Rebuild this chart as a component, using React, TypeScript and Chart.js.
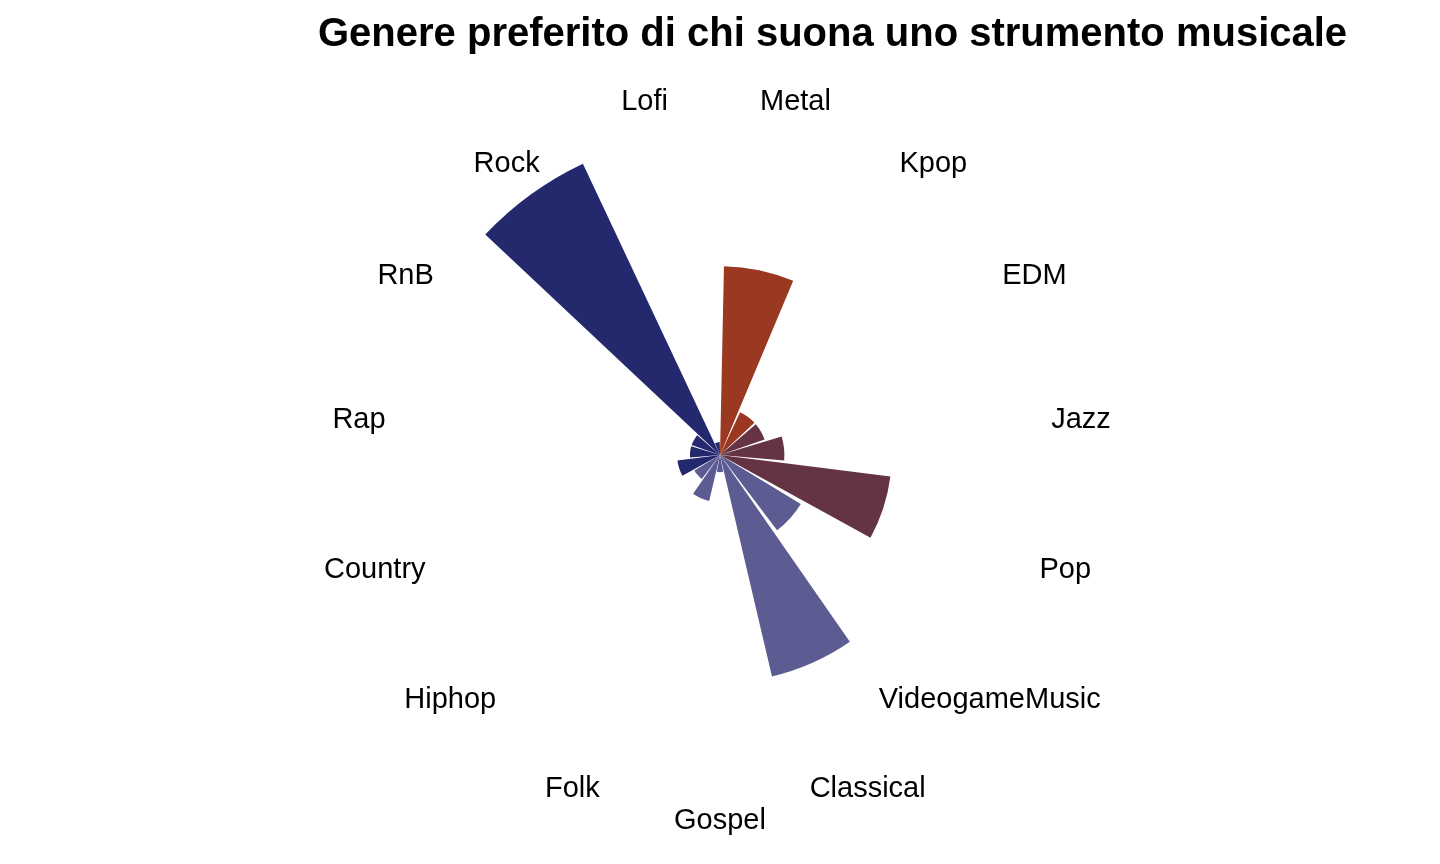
import React, { useEffect, useRef } from "react";
import { Chart, registerables } from "chart.js";

Chart.register(...registerables);

const TITLE = "Genere preferito di chi suona uno strumento musicale";
const categories = [
  "Metal", "Kpop", "EDM", "Jazz", "Pop", "VideogameMusic", "Classical", "Gospel",
  "Folk", "Hiphop", "Country", "Rap", "RnB", "Rock", "Lofi",
];
const counts = [44, 11, 11, 15, 40, 22, 53, 4, 11, 7, 10, 7, 7, 75, 3];
const ORANGE = "#9A3822";
const MAROON = "#653444";
const SLATE = "#5D5C92";
const NAVY = "#24286C";
const colors = [
  ORANGE, ORANGE, MAROON, MAROON, MAROON, SLATE, SLATE, SLATE,
  SLATE, SLATE, NAVY, NAVY, NAVY, NAVY, NAVY,
];
const MAX_COUNT = 75;
const BAR_WIDTH = 0.9; // fraction of each category's sector covered by its bar

const FONT = "'Liberation Sans', Arial, Helvetica, sans-serif";

// Interleave bars with empty gap slices so bars cover 90% of each sector
const sector = 360 / categories.length;
const chartLabels: string[] = [];
const chartData: number[] = [];
const chartColors: string[] = [];
const chartAngles: number[] = [];
categories.forEach((c, i) => {
  chartLabels.push(c);
  chartData.push(counts[i]);
  chartColors.push(colors[i]);
  chartAngles.push(sector * BAR_WIDTH);
  chartLabels.push("");
  chartData.push(0);
  chartColors.push("rgba(0,0,0,0)");
  chartAngles.push(sector * (1 - BAR_WIDTH));
});

const labelPlugin = {
  id: "polarLabels",
  afterDraw(chart: any) {
    const ctx = chart.ctx;
    const scale = chart.scales.r;
    const meta = chart.getDatasetMeta(0);
    const cx = scale.xCenter;
    const cy = scale.yCenter;
    const R = scale.drawingArea * (363 / 322);
    ctx.save();
    ctx.fillStyle = "#000000";
    ctx.font = `29px ${FONT}`;
    ctx.textAlign = "center";
    ctx.textBaseline = "alphabetic";
    meta.data.forEach((arc: any, i: number) => {
      const label = chart.data.labels[i];
      if (!label) return;
      const a = (arc.startAngle + arc.endAngle) / 2;
      const x = cx + R * Math.cos(a);
      const y = cy + R * Math.sin(a);
      ctx.fillText(label, x, y + 10.5);
    });
    ctx.font = `bold 40px ${FONT}`;
    ctx.textAlign = "left";
    ctx.fillText(TITLE, 318, 46);
    ctx.restore();
  },
};

export default function App() {
  const ref = useRef<HTMLCanvasElement | null>(null);
  useEffect(() => {
    if (!ref.current) return;
    const chart = new Chart(ref.current, {
      type: "polarArea",
      data: {
        labels: chartLabels,
        datasets: [
          {
            data: chartData,
            backgroundColor: chartColors,
            borderWidth: 0,
            angle: chartAngles,
          } as any,
        ],
      },
      options: {
        responsive: false,
        animation: false,
        layout: { padding: { top: 133, bottom: 87, left: 398, right: 398 } },
        plugins: {
          legend: { display: false },
          tooltip: { enabled: false },
          title: { display: false },
        },
        scales: {
          r: {
            min: 0,
            max: MAX_COUNT,
            startAngle: (sector * (1 - BAR_WIDTH)) / 2,
            grid: { display: false },
            angleLines: { display: false },
            ticks: { display: false },
            pointLabels: { display: false },
          },
        },
      },
      plugins: [labelPlugin],
    });
    return () => chart.destroy();
  }, []);
  return (
    <div style={{ position: "absolute", left: 0, top: 0, width: 1440, height: 864, background: "#fff" }}>
      <canvas ref={ref} width={1440} height={864} style={{ display: "block" }} />
    </div>
  );
}
